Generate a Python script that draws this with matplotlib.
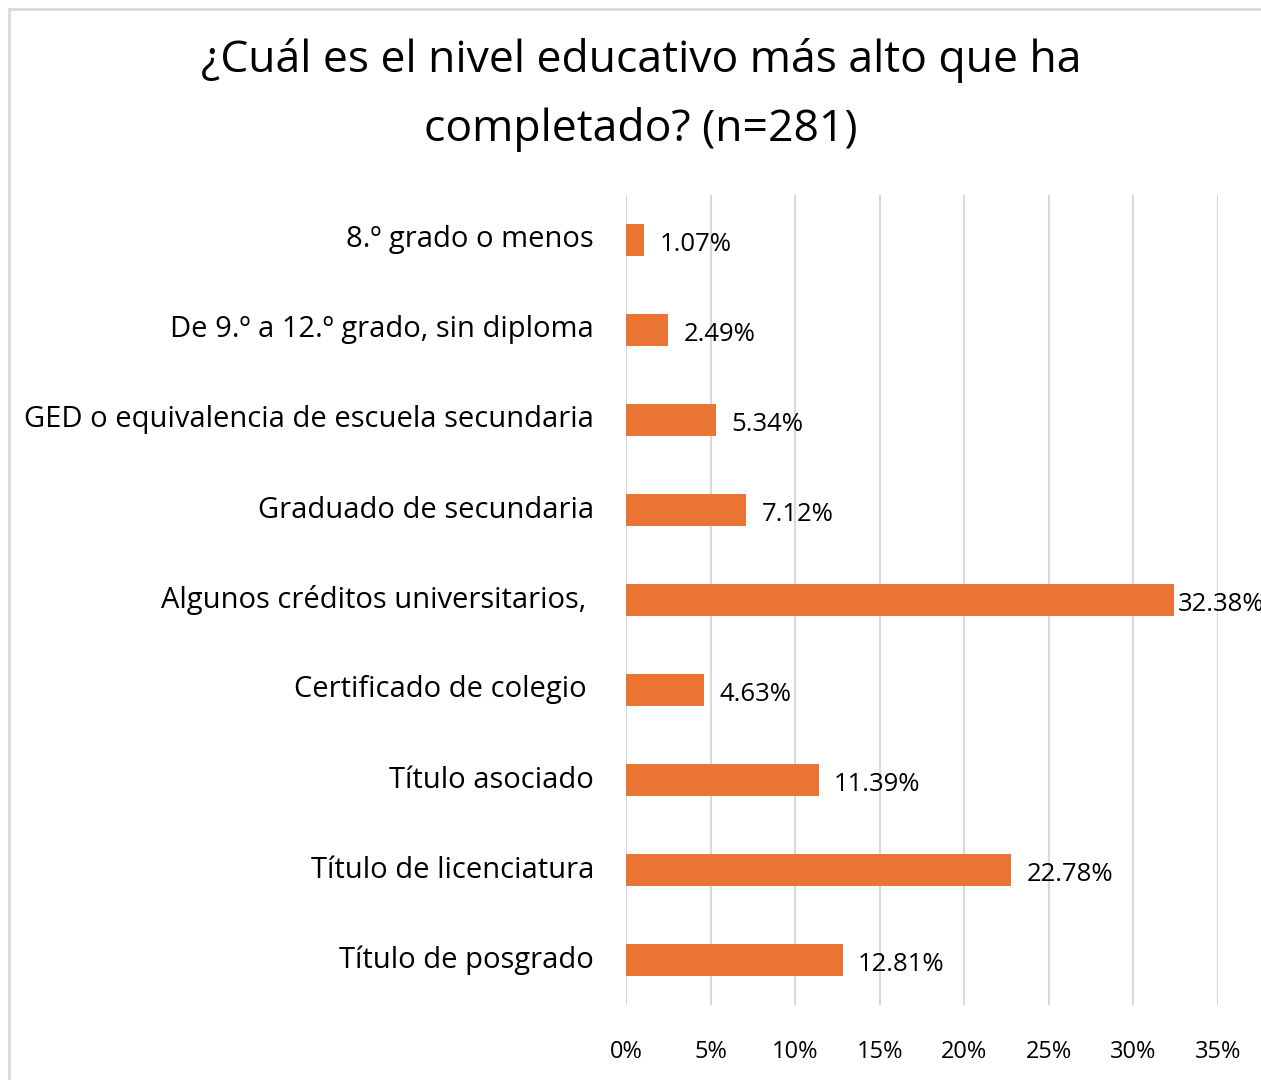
import matplotlib
matplotlib.use("Agg")
import matplotlib.pyplot as plt
from matplotlib.patches import Rectangle

categories = [
    "8.º grado o menos",
    "De 9.º a 12.º grado, sin diploma",
    "GED o equivalencia de escuela secundaria",
    "Graduado de secundaria",
    "Algunos créditos universitarios, ",
    "Certificado de colegio ",
    "Título asociado",
    "Título de licenciatura",
    "Título de posgrado",
]
values = [1.07, 2.49, 5.34, 7.12, 32.38, 4.63, 11.39, 22.78, 12.81]
xticks = [0, 5, 10, 15, 20, 25, 30, 35]
xtick_labels = ["0%", "5%", "10%", "15%", "20%", "25%", "30%", "35%"]
title = "¿Cuál es el nivel educativo más alto que ha\ncompletado? (n=281)"

W, H = 1261, 1080
fig = plt.figure(figsize=(W / 100, H / 100), dpi=100)
font = "Open Sans"

# outer border
fig.patches.append(Rectangle((9 / W, -0.01), 1.1, 1 - 9 / H + 0.01, transform=fig.transFigure,
                             fill=False, edgecolor="#d9d9d9", linewidth=2))

ax = fig.add_axes([626 / W, 1 - 1005 / H, (1218 - 626) / W, (1005 - 195) / H])
y = list(range(len(categories)))
ax.barh(y, values, height=0.36, color="#EA7434", zorder=3)
ax.set_ylim(len(categories) - 0.5, -0.5)
ax.set_xlim(0, 35)
ax.set_xticks(xticks)
ax.set_xticklabels(xtick_labels, family=font, fontsize=17)
ax.set_yticks(y)
ax.set_yticklabels(categories, family=font, fontsize=21)
for lbl in ax.get_yticklabels():
    lbl.set_verticalalignment("center")
ax.tick_params(axis="both", length=0, colors="#000000")
ax.tick_params(axis="x", pad=25)
ax.tick_params(axis="y", pad=23)
for s in ax.spines.values():
    s.set_visible(False)
ax.grid(axis="x", color="#d9d9d9", linewidth=1.5, zorder=0)
ax.set_axisbelow(True)

for yi, v in zip(y, values):
    ax.annotate(f"{v:.2f}%", (v, yi), xytext=(11 if v < 30 else 3, -1), textcoords="offset points",
                va="center_baseline", ha="left", family=font, fontsize=18.5, annotation_clip=False)

fig.text(641 / W, 1 - 95 / H, title, ha="center", va="center", family=font, fontsize=32,
         linespacing=1.72)

fig.savefig("out.png", dpi=100)
